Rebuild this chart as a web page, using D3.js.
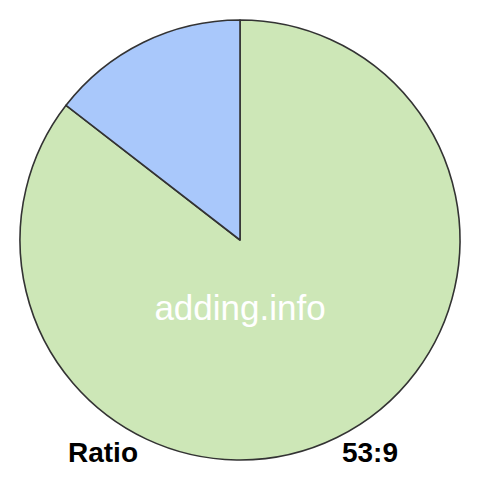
<!DOCTYPE html>
<html>
<head>
<meta charset="utf-8">
<script src="https://cdn.jsdelivr.net/npm/d3@7"></script>
<style>
  body { margin: 0; background: #fff; }
</style>
</head>
<body>
<div id="chart"></div>
<script>
// ratio parts
const labels = ["first", "second"];
const values = [53, 9];
const colors = ["#cde7b7", "#a9c8fb"];

const width = 480;
const height = 480;
const radius = 220;

const svg = d3.select("#chart")
    .append("svg")
    .attr("width", width)
    .attr("height", height);

const g = svg.append("g")
    .attr("transform", `translate(${width / 2}, 240)`);

const pie = d3.pie().sort(null).value(d => d.value);
const arc = d3.arc().innerRadius(0).outerRadius(radius);

const data = labels.map((l, i) => ({ label: l, value: values[i], color: colors[i] }));

// draw slices
g.selectAll("path")
    .data(pie(data))
    .enter()
    .append("path")
    .attr("d", arc)
    .attr("fill", d => d.data.color)
    .attr("stroke", "#333")
    .attr("stroke-width", 1.6)
    .attr("stroke-linejoin", "round");

// watermark text
g.append("text")
    .attr("x", 0)
    .attr("y", 68)
    .attr("dy", "0.35em")
    .attr("text-anchor", "middle")
    .attr("font-family", "Liberation Sans, Arial, sans-serif")
    .attr("font-size", "35px")
    .attr("fill", "#fff")
    .text("adding.info");

// bottom labels
svg.append("text")
    .attr("x", 68)
    .attr("y", 462)
    .attr("font-family", "Liberation Sans, Arial, sans-serif")
    .attr("font-weight", "bold")
    .attr("font-size", "28px")
    .attr("fill", "#000")
    .text("Ratio");

svg.append("text")
    .attr("x", 398)
    .attr("y", 462)
    .attr("text-anchor", "end")
    .attr("font-family", "Liberation Sans, Arial, sans-serif")
    .attr("font-weight", "bold")
    .attr("font-size", "28px")
    .attr("fill", "#000")
    .text(values.join(":"));
</script>
</body>
</html>
